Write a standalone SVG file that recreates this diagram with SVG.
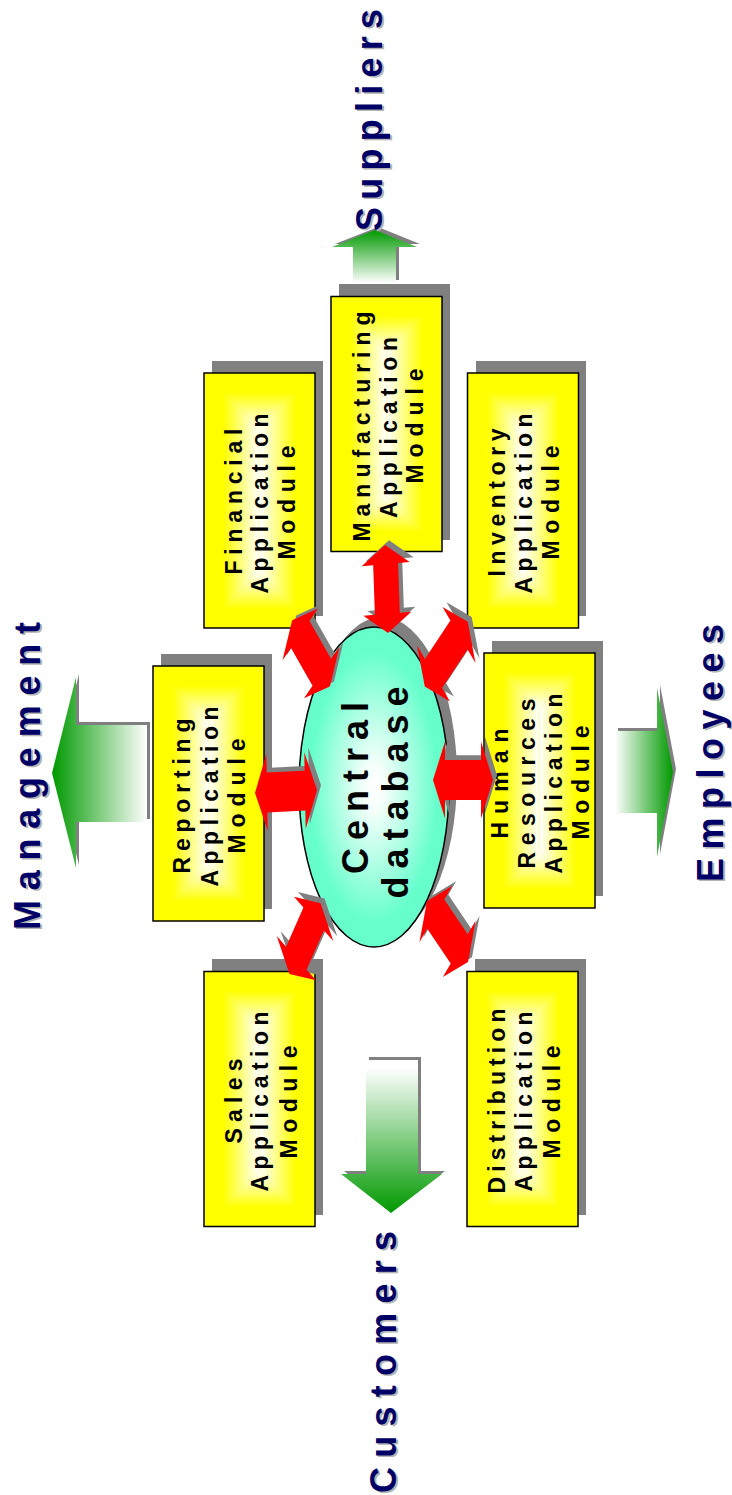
<svg xmlns="http://www.w3.org/2000/svg" width="732" height="1495" viewBox="0 0 732 1495">
<defs>
<style>
.frame{fill:none;stroke:#000;stroke-width:1.5}
.sh{fill:#808080}
.bt{font-family:'Liberation Sans',Arial,sans-serif;font-weight:bold;font-size:23px;fill:#000;text-anchor:middle}
.ct{font-family:'Liberation Sans',Arial,sans-serif;font-weight:bold;font-size:36px;fill:#000;text-anchor:middle}
.hd{font-family:'Liberation Sans',Arial,sans-serif;font-weight:bold;font-size:36px;fill:#000066}
.hds{font-family:'Liberation Sans',Arial,sans-serif;font-weight:bold;font-size:36px;fill:#B4B4B4}
.red{fill:#FF0000}
.rsh{fill:#808080}
</style>
<linearGradient id="gL" x1="0" y1="0" x2="1" y2="0">
<stop offset="0" stop-color="#FFFF00"/>
<stop offset="0.35" stop-color="#FFFF00"/>
<stop offset="1" stop-color="#FFFFFF"/>
</linearGradient>
<linearGradient id="gR" x1="1" y1="0" x2="0" y2="0">
<stop offset="0" stop-color="#FFFF00"/>
<stop offset="0.35" stop-color="#FFFF00"/>
<stop offset="1" stop-color="#FFFFFF"/>
</linearGradient>
<linearGradient id="gT" x1="0" y1="0" x2="0" y2="1">
<stop offset="0" stop-color="#FFFF00"/>
<stop offset="0.35" stop-color="#FFFF00"/>
<stop offset="1" stop-color="#FFFFFF"/>
</linearGradient>
<linearGradient id="gB" x1="0" y1="1" x2="0" y2="0">
<stop offset="0" stop-color="#FFFF00"/>
<stop offset="0.35" stop-color="#FFFF00"/>
<stop offset="1" stop-color="#FFFFFF"/>
</linearGradient>
<g id="boxFill">
<rect x="0" y="0" width="111" height="255" fill="#FFFF00"/>
<polygon points="0,0 55.5,55.5 55.5,199.5 0,255" fill="url(#gL)"/>
<polygon points="111,0 55.5,55.5 55.5,199.5 111,255" fill="url(#gR)"/>
<polygon points="0,0 111,0 55.5,55.5" fill="url(#gT)"/>
<polygon points="0,255 111,255 55.5,199.5" fill="url(#gB)"/>
<rect class="frame" x="0" y="0" width="111" height="255"/>
</g>
<radialGradient id="gDb" cx="0.5" cy="0.5" r="0.5">
<stop offset="0" stop-color="#FFFFFF"/>
<stop offset="0.15" stop-color="#F4FFFA"/>
<stop offset="0.85" stop-color="#66FFCC"/>
</radialGradient>
<linearGradient id="gLeft" x1="0" y1="0" x2="1" y2="0">
<stop offset="0" stop-color="#009900"/>
<stop offset="1" stop-color="#FFFFFF"/>
</linearGradient>
<linearGradient id="gRight" x1="0" y1="0" x2="1" y2="0">
<stop offset="0" stop-color="#FFFFFF"/>
<stop offset="1" stop-color="#009900"/>
</linearGradient>
<linearGradient id="gUp" x1="0" y1="0" x2="0" y2="1">
<stop offset="0" stop-color="#009900"/>
<stop offset="1" stop-color="#FFFFFF"/>
</linearGradient>
<linearGradient id="gDown" x1="0" y1="0" x2="0" y2="1">
<stop offset="0.05" stop-color="#FFFFFF"/>
<stop offset="1" stop-color="#009900"/>
</linearGradient>
</defs>

<g id="flows">
<polygon class="sh" points="55,770 79,674 79,722 150,722 150,819 79,819 79,865"/>
<polygon fill="url(#gLeft)" points="52,773 76,677 76,725 147,725 147,822 76,822 76,868"/>
<polygon class="sh" points="618,728 660,728 660,685 676,769 660,854 660,810 618,810"/>
<polygon fill="url(#gRight)" points="615,731 657,731 657,688 673,772 657,857 657,813 615,813"/>
<polygon class="sh" points="378,227 420,244 399,244 399,280 356,280 356,244 335,244"/>
<polygon fill="url(#gUp)" points="375,230 417,247 396,247 396,283 353,283 353,247 332,247"/>
<polygon class="sh" points="369,1057 421,1057 421,1171 445,1171 394,1210 344,1171 369,1171"/>
<polygon fill="url(#gDown)" points="366,1060 418,1060 418,1174 442,1174 391,1213 341,1174 366,1174"/>
</g>

<g id="financial">
<rect class="sh" x="212" y="361" width="111" height="255"/>
<use href="#boxFill" x="204" y="373"/>
<text class="bt" transform="translate(242,501.5) rotate(-90)" textLength="146" lengthAdjust="spacing">Financial</text>
<text class="bt" transform="translate(268,503.5) rotate(-90)" textLength="180" lengthAdjust="spacing">Application</text>
<text class="bt" transform="translate(295,502.5) rotate(-90)" textLength="114" lengthAdjust="spacing">Module</text>
</g>

<g id="manufacturing">
<rect class="sh" x="339" y="284" width="111" height="256"/>
<use href="#boxFill" x="331" y="296.5"/>
<text class="bt" transform="translate(370,426.5) rotate(-90)" textLength="230" lengthAdjust="spacing">Manufacturing</text>
<text class="bt" transform="translate(397,427.5) rotate(-90)" textLength="181" lengthAdjust="spacing">Application</text>
<text class="bt" transform="translate(423,426) rotate(-90)" textLength="115" lengthAdjust="spacing">Module</text>
</g>

<g id="inventory">
<rect class="sh" x="476" y="361" width="110" height="255"/>
<use href="#boxFill" x="467.5" y="373"/>
<text class="bt" transform="translate(505,502.5) rotate(-90)" textLength="148" lengthAdjust="spacing">Inventory</text>
<text class="bt" transform="translate(532,503.5) rotate(-90)" textLength="180" lengthAdjust="spacing">Application</text>
<text class="bt" transform="translate(559,502.5) rotate(-90)" textLength="114" lengthAdjust="spacing">Module</text>
</g>

<g id="reporting">
<rect class="sh" x="161" y="654" width="111" height="255"/>
<use href="#boxFill" x="153" y="666"/>
<text class="bt" transform="translate(190,796) rotate(-90)" textLength="155" lengthAdjust="spacing">Reporting</text>
<text class="bt" transform="translate(218,796.5) rotate(-90)" textLength="180" lengthAdjust="spacing">Application</text>
<text class="bt" transform="translate(245,796) rotate(-90)" textLength="115" lengthAdjust="spacing">Module</text>
</g>

<g id="human-resources">
<rect class="sh" x="492" y="641" width="111" height="255"/>
<use href="#boxFill" x="484" y="653"/>
<text class="bt" transform="translate(508,783.5) rotate(-90)" textLength="110" lengthAdjust="spacing">Human</text>
<text class="bt" transform="translate(535,783.5) rotate(-90)" textLength="170" lengthAdjust="spacing">Resources</text>
<text class="bt" transform="translate(562,783.5) rotate(-90)" textLength="180" lengthAdjust="spacing">Application</text>
<text class="bt" transform="translate(589,782.5) rotate(-90)" textLength="114" lengthAdjust="spacing">Module</text>
</g>

<g id="sales">
<rect class="sh" x="212" y="959" width="111" height="256"/>
<use href="#boxFill" x="204" y="971.5"/>
<text class="bt" transform="translate(242,1101) rotate(-90)" textLength="85" lengthAdjust="spacing">Sales</text>
<text class="bt" transform="translate(268,1101.5) rotate(-90)" textLength="180" lengthAdjust="spacing">Application</text>
<text class="bt" transform="translate(297,1102) rotate(-90)" textLength="113" lengthAdjust="spacing">Module</text>
</g>

<g id="distribution">
<rect class="sh" x="475" y="959" width="111" height="256"/>
<use href="#boxFill" x="467" y="971.5"/>
<text class="bt" transform="translate(505,1101) rotate(-90)" textLength="185" lengthAdjust="spacing">Distribution</text>
<text class="bt" transform="translate(532,1101.5) rotate(-90)" textLength="180" lengthAdjust="spacing">Application</text>
<text class="bt" transform="translate(560,1102) rotate(-90)" textLength="113" lengthAdjust="spacing">Module</text>
</g>

<g id="central-database">
<ellipse class="sh" cx="382" cy="777" rx="75" ry="160"/>
<ellipse cx="374" cy="787" rx="75" ry="160" fill="url(#gDb)" stroke="#000" stroke-width="1.5"/>
<text class="ct" transform="translate(368,788) rotate(-90)" textLength="172" lengthAdjust="spacing">Central</text>
<text class="ct" transform="translate(408,792.5) rotate(-90)" textLength="212" lengthAdjust="spacing">database</text>
</g>

<g id="connectors" transform="scale(1,1.6)">
<path class="rsh" transform="translate(390.5,365.1) rotate(86.9)" d="M-27.5,0 L-15.5,-24 L-15.5,-12.5 L15.5,-12.5 L15.5,-24 L27.5,0 L15.5,24 L15.5,12.5 L-15.5,12.5 L-15.5,24 Z"/>
<path class="red" transform="translate(386.5,368.1) rotate(86.9)" d="M-27.5,0 L-15.5,-24 L-15.5,-12.5 L15.5,-12.5 L15.5,-24 L27.5,0 L15.5,24 L15.5,12.5 L-15.5,12.5 L-15.5,24 Z"/>
<path class="rsh" transform="translate(290,491.7) rotate(-1.7)" d="M-31,0 L-19,-24 L-19,-12.5 L19,-12.5 L19,-24 L31,0 L19,24 L19,12.5 L-19,12.5 L-19,24 Z"/>
<path class="red" transform="translate(286,494.7) rotate(-1.7)" d="M-31,0 L-19,-24 L-19,-12.5 L19,-12.5 L19,-24 L31,0 L19,24 L19,12.5 L-19,12.5 L-19,24 Z"/>
<path class="rsh" transform="translate(467,484.5)" d="M-30,0 L-18,-24 L-18,-12.5 L18,-12.5 L18,-24 L30,0 L18,24 L18,12.5 L-18,12.5 L-18,24 Z"/>
<path class="red" transform="translate(463,487.5)" d="M-30,0 L-18,-24 L-18,-12.5 L18,-12.5 L18,-24 L30,0 L18,24 L18,12.5 L-18,12.5 L-18,24 Z"/>
<path class="rsh" transform="translate(315,405.35) rotate(47.7)" d="M-28,0 L-16,-24 L-16,-12.5 L16,-12.5 L16,-24 L28,0 L16,24 L16,12.5 L-16,12.5 L-16,24 Z"/>
<path class="red" transform="translate(311,408.35) rotate(47.7)" d="M-28,0 L-16,-24 L-16,-12.5 L16,-12.5 L16,-24 L28,0 L16,24 L16,12.5 L-16,12.5 L-16,24 Z"/>
<path class="rsh" transform="translate(450.25,405.9) rotate(136.7)" d="M-29.5,0 L-17.5,-24 L-17.5,-12.5 L17.5,-12.5 L17.5,-24 L29.5,0 L17.5,24 L17.5,12.5 L-17.5,12.5 L-17.5,24 Z"/>
<path class="red" transform="translate(446.25,408.9) rotate(136.7)" d="M-29.5,0 L-17.5,-24 L-17.5,-12.5 L17.5,-12.5 L17.5,-24 L29.5,0 L17.5,24 L17.5,12.5 L-17.5,12.5 L-17.5,24 Z"/>
<path class="rsh" transform="translate(309,583.6) rotate(125.1)" d="M-27,0 L-15,-24 L-15,-12.5 L15,-12.5 L15,-24 L27,0 L15,24 L15,12.5 L-15,12.5 L-15,24 Z"/>
<path class="red" transform="translate(305,586.6) rotate(125.1)" d="M-27,0 L-15,-24 L-15,-12.5 L15,-12.5 L15,-24 L27,0 L15,24 L15,12.5 L-15,12.5 L-15,24 Z"/>
<path class="rsh" transform="translate(451.5,579.2) rotate(42.9)" d="M-28,0 L-16,-24 L-16,-12.5 L16,-12.5 L16,-24 L28,0 L16,24 L16,12.5 L-16,12.5 L-16,24 Z"/>
<path class="red" transform="translate(447.5,582.2) rotate(42.9)" d="M-28,0 L-16,-24 L-16,-12.5 L16,-12.5 L16,-24 L28,0 L16,24 L16,12.5 L-16,12.5 L-16,24 Z"/>
</g>

<g id="suppliers">
<text class="hds" transform="translate(384,232.5) rotate(-90)" textLength="222" lengthAdjust="spacing">Suppliers</text>
<text class="hd" transform="translate(382,231) rotate(-90)" textLength="222" lengthAdjust="spacing">Suppliers</text>
</g>
<g id="management">
<text class="hds" transform="translate(42,931.5) rotate(-90)" textLength="308" lengthAdjust="spacing">Management</text>
<text class="hd" transform="translate(40,930) rotate(-90)" textLength="308" lengthAdjust="spacing">Management</text>
</g>
<g id="customers">
<text class="hds" transform="translate(398,1494.5) rotate(-90)" textLength="262" lengthAdjust="spacing">Customers</text>
<text class="hd" transform="translate(396,1493) rotate(-90)" textLength="262" lengthAdjust="spacing">Customers</text>
</g>
<g id="employees">
<text class="hds" transform="translate(725,883.5) rotate(-90)" textLength="258" lengthAdjust="spacing">Employees</text>
<text class="hd" transform="translate(723,882) rotate(-90)" textLength="258" lengthAdjust="spacing">Employees</text>
</g>
</svg>
